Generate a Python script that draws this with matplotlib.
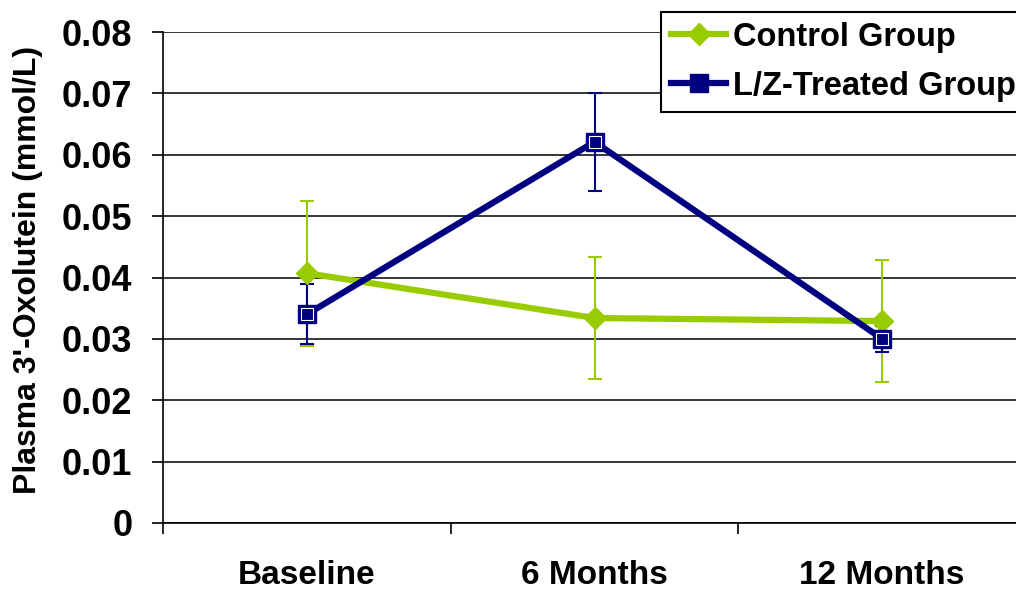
import numpy as np
import matplotlib
matplotlib.use('Agg')
import matplotlib.pyplot as plt

plt.rcParams['font.family'] = ['Liberation Sans', 'DejaVu Sans']
plt.rcParams['font.weight'] = 'bold'
plt.rcParams['axes.labelweight'] = 'bold'

# data
categories = ['Baseline', '6 Months', '12 Months']
control = [0.0407, 0.0334, 0.0329]
control_err = [0.0118, 0.0100, 0.0100]
treated = [0.0340, 0.0621, 0.0300]
treated_err = [0.0049, 0.0080, 0.0021]

green = '#99CC00'
navy = '#000080'

fig = plt.figure(figsize=(10.16, 5.94), dpi=100)
ax = fig.add_axes([163 / 1016, 71 / 594, 863 / 1016, 491 / 594])

x = np.arange(len(categories)) + 0.5

ax.errorbar(x, control, yerr=control_err, fmt='none', ecolor=green,
            elinewidth=1.5, capsize=5, capthick=1.5, zorder=3)
ax.errorbar(x, treated, yerr=treated_err, fmt='none', ecolor=navy,
            elinewidth=1.5, capsize=5, capthick=1.5, zorder=3)
line_c, = ax.plot(x, control, color=green, linewidth=4.5, marker='D',
                  markersize=11, markerfacecolor=green, markeredgecolor=green,
                  zorder=4)
line_t, = ax.plot(x, treated, color=navy, linewidth=4.5, marker='s',
                  markersize=12.5, markerfacecolor=navy, markeredgecolor=navy,
                  zorder=5)
# white inner outline of the square markers
ax.plot(x, treated, linestyle='none', marker='s', markersize=8.5,
        markerfacecolor='none', markeredgecolor='white', markeredgewidth=0.8,
        zorder=6)

ax.set_xlim(0, 3)
ax.set_ylim(0, 0.08)
ax.set_yticks(np.arange(0, 0.081, 0.01))
ax.set_yticklabels(['0'] + [f'{v:.2f}' for v in np.arange(0.01, 0.081, 0.01)])
ax.set_xticks([0, 1, 2, 3])
ax.set_xticklabels([])
ax.set_xticks(x, minor=True)
ax.set_xticklabels(categories, minor=True)

ax.tick_params(axis='y', direction='out', length=8, width=1.2, pad=14,
               labelsize=26)
ax.tick_params(axis='x', which='major', direction='out', length=8, width=1.2)
ax.tick_params(axis='x', which='minor', length=0, pad=27, labelsize=24)

ax.grid(axis='y', color='black', linewidth=1.1)
ax.set_axisbelow(True)
for s in ['top', 'right']:
    ax.spines[s].set_visible(False)
ax.spines['left'].set_linewidth(1.2)
ax.spines['bottom'].set_linewidth(1.2)

ax.set_ylabel("Plasma 3'-Oxolutein (mmol/L)", fontsize=23, fontweight='bold')
ax.yaxis.set_label_coords(-120 / 863, 0.515)

leg = fig.legend([line_c, line_t], ['Control Group', 'L/Z-Treated Group'],
                 loc='upper left', bbox_to_anchor=(661 / 1016, 1 - 12 / 594),
                 fontsize=23.5, frameon=True, fancybox=False, framealpha=1,
                 edgecolor='black', handlelength=1.7, handletextpad=0.2,
                 labelspacing=0.55, borderpad=0.3, borderaxespad=0)
leg.get_frame().set_linewidth(1.5)

fig.savefig('out.png', dpi=100)
